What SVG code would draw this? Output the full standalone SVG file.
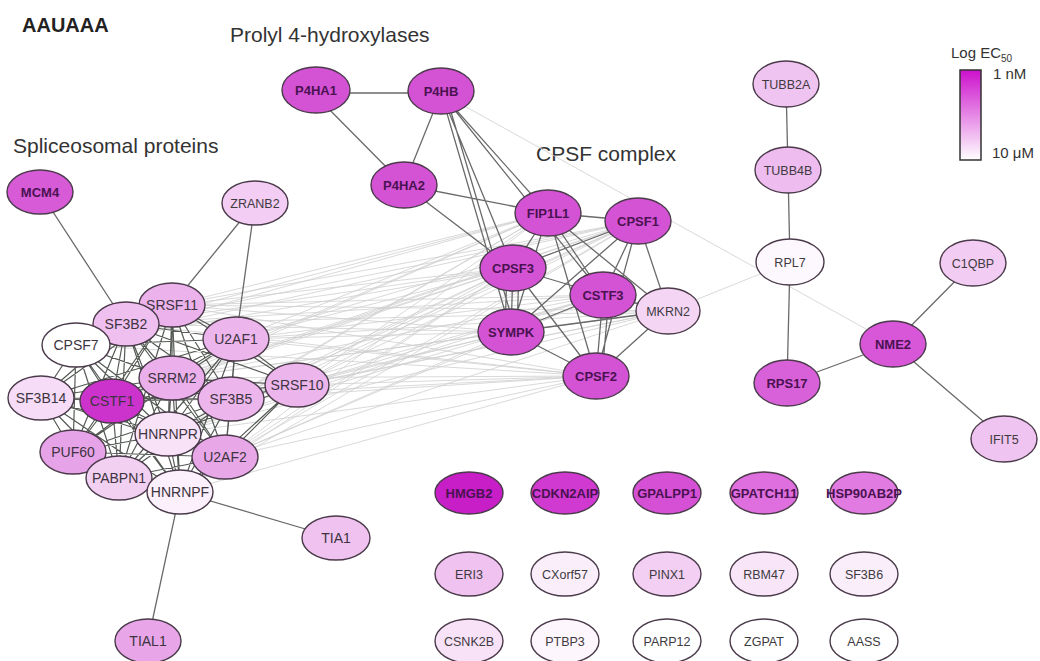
<svg xmlns="http://www.w3.org/2000/svg" width="1040" height="661" viewBox="0 0 1040 661">
<defs>
  <linearGradient id="ecScale" x1="0" y1="0" x2="0" y2="1">
    <stop offset="0" stop-color="#cc10cc"/>
    <stop offset="1" stop-color="#ffffff"/>
  </linearGradient>
  <style>
    .title { font-family: "Liberation Sans", Arial, sans-serif; font-size: 21px; fill: #333333; }
    .head { font-family: "Liberation Sans", Arial, sans-serif; font-size: 20px; font-weight: bold; fill: #222222; }
    .legend { font-family: "Liberation Sans", Arial, sans-serif; font-size: 15px; fill: #333333; }
    .node ellipse { stroke: #4a3a4a; stroke-width: 1.4; }
    .node text { font-family: "Liberation Sans", Arial, sans-serif; font-size: 12.5px; fill: #3d3a40; text-anchor: middle; }
    .node.dk text { font-size: 13px; font-weight: bold; fill: #4a1250; }
    .node.sp text { font-size: 14px; fill: #3d3440; }
    .weak { stroke: #cfcfcf; stroke-width: 0.8; fill: none; }
    .strong { stroke: #6a6a6a; stroke-width: 1.3; fill: none; }
    .mesh { stroke: #555a55; stroke-width: 1.2; fill: none; }
  </style>
</defs>
<rect width="1040" height="661" fill="#ffffff"/>

<!-- headings -->
<text class="head" x="22" y="32">AAUAAA</text>
<text class="title" x="230" y="42">Prolyl 4-hydroxylases</text>
<text class="title" x="13" y="153">Spliceosomal proteins</text>
<text class="title" x="536" y="161">CPSF complex</text>

<!-- colour scale -->
<g id="legend">
  <text class="legend" x="951" y="58">Log EC<tspan font-size="10" dy="4">50</tspan></text>
  <rect x="960" y="70" width="21" height="90" fill="url(#ecScale)" stroke="#333333" stroke-width="1.5"/>
  <text class="legend" x="993" y="79">1 nM</text>
  <text class="legend" x="992" y="158">10 μM</text>
</g>

<g id="connectors">
  <!-- faint links between the spliceosomal cluster and the CPSF complex -->
  <path class="weak" d="
    M172 305L548 213M172 305L638 221M172 305L513 268M172 305L603 295M172 305L511 332M172 305L596 376M172 305L668 311
    M126 324L548 213M126 324L638 221M126 324L513 268M126 324L603 295M126 324L511 332M126 324L596 376M126 324L668 311
    M236 339L548 213M236 339L638 221M236 339L513 268M236 339L603 295M236 339L511 332M236 339L596 376M236 339L668 311
    M76 345L548 213M76 345L638 221M76 345L513 268M76 345L596 376
    M172 378L548 213M172 378L638 221M172 378L513 268M172 378L603 295M172 378L511 332M172 378L596 376M172 378L668 311
    M297 385L548 213M297 385L638 221M297 385L513 268M297 385L603 295M297 385L511 332M297 385L596 376M297 385L668 311
    M112 401L548 213M112 401L638 221M112 401L513 268M112 401L596 376
    M231 399L548 213M231 399L638 221M231 399L513 268M231 399L603 295M231 399L511 332M231 399L596 376M231 399L668 311
    M168 434L548 213M168 434L638 221M168 434L513 268M168 434L603 295M168 434L511 332M168 434L596 376M168 434L668 311
    M225 457L548 213M225 457L638 221M225 457L513 268M225 457L603 295M225 457L511 332M225 457L596 376M225 457L668 311
    M180 492L638 221M180 492L513 268M180 492L596 376
    M441 93L893 344
    M790 262L668 311"/>

  <!-- dense spliceosomal mesh -->
  <path class="mesh" d="
    M172 305L126 324M172 305L236 339M172 305L76 345M172 305L172 378M172 305L297 385M172 305L41 398M172 305L112 401
    M172 305L231 399M172 305L168 434M172 305L73 452M172 305L225 457M172 305L119 478M172 305L180 492
    M126 324L236 339M126 324L76 345M126 324L172 378M126 324L297 385M126 324L41 398M126 324L112 401M126 324L231 399
    M126 324L168 434M126 324L73 452M126 324L225 457M126 324L119 478M126 324L180 492
    M236 339L76 345M236 339L172 378M236 339L297 385M236 339L41 398M236 339L112 401M236 339L231 399M236 339L168 434
    M236 339L73 452M236 339L225 457M236 339L119 478M236 339L180 492
    M76 345L172 378M76 345L41 398M76 345L112 401M76 345L231 399M76 345L168 434M76 345L73 452M76 345L225 457
    M76 345L119 478M76 345L180 492
    M172 378L297 385M172 378L41 398M172 378L112 401M172 378L231 399M172 378L168 434M172 378L73 452M172 378L225 457
    M172 378L119 478M172 378L180 492
    M297 385L231 399M297 385L168 434M297 385L225 457M297 385L180 492M297 385L112 401
    M41 398L112 401M41 398L231 399M41 398L168 434M41 398L73 452M41 398L225 457M41 398L119 478M41 398L180 492
    M112 401L231 399M112 401L168 434M112 401L73 452M112 401L225 457M112 401L119 478M112 401L180 492
    M231 399L168 434M231 399L73 452M231 399L225 457M231 399L119 478M231 399L180 492
    M168 434L73 452M168 434L225 457M168 434L119 478M168 434L180 492
    M73 452L225 457M73 452L119 478M73 452L180 492
    M225 457L119 478M225 457L180 492
    M119 478L180 492"/>

  <!-- solid interactions -->
  <path class="strong" d="
    M313 93L441 93M313 93L404 185M441 93L404 185
    M441 93L548 213M441 93L513 268M441 93L511 332M446 95L516 332M441 93L603 295
    M404 185L548 213M404 185L513 268
    M548 213L638 221M548 213L513 268M548 213L603 295M548 213L511 332M548 213L668 311M548 213L596 376
    M638 221L513 268M638 221L603 295M638 221L511 332M638 221L668 311M638 221L596 376
    M513 268L603 295M513 268L511 332M507 268L505 332M519 268L517 332M513 268L596 376
    M603 295L511 332M603 295L596 376M609 295L602 376M603 295L668 311
    M511 332L668 311M511 332L596 376M668 311L596 376
    M786 84L788 170M788 170L790 262M790 262L787 383M787 383L893 344M893 344L973 263M893 344L1004 439
    M40 192L126 324M255 203L172 305M255 203L236 339
    M180 492L336 538M180 492L148 641"/>
</g>

<!-- nodes: spliceosomal proteins -->
<g id="n-MCM4" class="node dk" transform="translate(40,192)"><ellipse rx="33" ry="22" fill="#d75ad7"/><text y="4.5">MCM4</text></g>
<g id="n-ZRANB2" class="node" transform="translate(255,203)"><ellipse rx="33" ry="22" fill="#f3cdf3"/><text y="4.5">ZRANB2</text></g>
<g id="n-SRSF11" class="node sp" transform="translate(172,305)"><ellipse rx="33" ry="22" fill="#ecb2ec"/><text y="5">SRSF11</text></g>
<g id="n-SF3B2" class="node sp" transform="translate(126,324)"><ellipse rx="33" ry="22" fill="#efbfef"/><text y="5">SF3B2</text></g>
<g id="n-U2AF1" class="node sp" transform="translate(236,339)"><ellipse rx="33" ry="22" fill="#ecb6ec"/><text y="5">U2AF1</text></g>
<g id="n-CPSF7" class="node sp" transform="translate(76,345)"><ellipse rx="34" ry="22" fill="#ffffff"/><text y="5">CPSF7</text></g>
<g id="n-SRRM2" class="node sp" transform="translate(172,378)"><ellipse rx="33" ry="22" fill="#ebb0eb"/><text y="5">SRRM2</text></g>
<g id="n-SRSF10" class="node sp" transform="translate(297,385)"><ellipse rx="32" ry="22" fill="#ecb6ec"/><text y="5">SRSF10</text></g>
<g id="n-SF3B14" class="node sp" transform="translate(41,398)"><ellipse rx="33" ry="22" fill="#f6dcf6"/><text y="5">SF3B14</text></g>
<g id="n-CSTF1" class="node sp" transform="translate(112,401)"><ellipse rx="32" ry="22" fill="#cc33cc"/><text y="5">CSTF1</text></g>
<g id="n-SF3B5" class="node sp" transform="translate(231,399)"><ellipse rx="33" ry="22" fill="#ecb6ec"/><text y="5">SF3B5</text></g>
<g id="n-HNRNPR" class="node sp" transform="translate(168,434)"><ellipse rx="33" ry="22" fill="#f8e2f8"/><text y="5">HNRNPR</text></g>
<g id="n-PUF60" class="node sp" transform="translate(73,452)"><ellipse rx="33" ry="22" fill="#e7a3e7"/><text y="5">PUF60</text></g>
<g id="n-U2AF2" class="node sp" transform="translate(225,457)"><ellipse rx="33" ry="22" fill="#e8a8e8"/><text y="5">U2AF2</text></g>
<g id="n-PABPN1" class="node sp" transform="translate(119,478)"><ellipse rx="33" ry="22" fill="#f2d0f2"/><text y="5">PABPN1</text></g>
<g id="n-HNRNPF" class="node sp" transform="translate(180,492)"><ellipse rx="33" ry="22" fill="#fbf0fb"/><text y="5">HNRNPF</text></g>
<g id="n-TIA1" class="node sp" transform="translate(336,538)"><ellipse rx="34" ry="22" fill="#f0c2f0"/><text y="5">TIA1</text></g>
<g id="n-TIAL1" class="node sp" transform="translate(148,641)"><ellipse rx="33" ry="22" fill="#e8a6e8"/><text y="5">TIAL1</text></g>

<!-- nodes: prolyl 4-hydroxylases -->
<g id="n-P4HA1" class="node dk" transform="translate(316,90)"><ellipse rx="34" ry="23" fill="#d452d4"/><text y="4.5">P4HA1</text></g>
<g id="n-P4HB" class="node dk" transform="translate(441,91)"><ellipse rx="33" ry="23" fill="#d452d4"/><text y="4.5">P4HB</text></g>
<g id="n-P4HA2" class="node dk" transform="translate(404,185)"><ellipse rx="33" ry="23" fill="#d452d4"/><text y="4.5">P4HA2</text></g>

<!-- nodes: CPSF complex -->
<g id="n-FIP1L1" class="node dk" transform="translate(548,213)"><ellipse rx="33" ry="23" fill="#d452d4"/><text y="4.5">FIP1L1</text></g>
<g id="n-CPSF1" class="node dk" transform="translate(638,221)"><ellipse rx="33" ry="23" fill="#d452d4"/><text y="4.5">CPSF1</text></g>
<g id="n-CPSF3" class="node dk" transform="translate(513,268)"><ellipse rx="33" ry="23" fill="#d452d4"/><text y="4.5">CPSF3</text></g>
<g id="n-MKRN2" class="node" transform="translate(668,311)"><ellipse rx="32" ry="23" fill="#f4d6f4"/><text y="4.5">MKRN2</text></g>
<g id="n-CSTF3" class="node dk" transform="translate(603,295)"><ellipse rx="33" ry="23" fill="#d452d4"/><text y="4.5">CSTF3</text></g>
<g id="n-SYMPK" class="node dk" transform="translate(511,332)"><ellipse rx="33" ry="23" fill="#d452d4"/><text y="4.5">SYMPK</text></g>
<g id="n-CPSF2" class="node dk" transform="translate(596,376)"><ellipse rx="33" ry="23" fill="#d452d4"/><text y="4.5">CPSF2</text></g>

<!-- nodes: right-hand component -->
<g id="n-TUBB2A" class="node" transform="translate(786,84)"><ellipse rx="33" ry="23" fill="#f0c4f0"/><text y="4.5">TUBB2A</text></g>
<g id="n-TUBB4B" class="node" transform="translate(788,170)"><ellipse rx="33" ry="23" fill="#eebcee"/><text y="4.5">TUBB4B</text></g>
<g id="n-RPL7" class="node" transform="translate(790,262)"><ellipse rx="34" ry="23" fill="#fdf8fd"/><text y="4.5">RPL7</text></g>
<g id="n-C1QBP" class="node" transform="translate(973,263)"><ellipse rx="33" ry="23" fill="#f2ccf2"/><text y="4.5">C1QBP</text></g>
<g id="n-NME2" class="node dk" transform="translate(893,344)"><ellipse rx="33" ry="23" fill="#d856d8"/><text y="4.5">NME2</text></g>
<g id="n-RPS17" class="node dk" transform="translate(787,383)"><ellipse rx="33" ry="23" fill="#d860d8"/><text y="4.5">RPS17</text></g>
<g id="n-IFIT5" class="node" transform="translate(1004,439)"><ellipse rx="33" ry="23" fill="#f0c4f0"/><text y="4.5">IFIT5</text></g>

<!-- unconnected proteins -->
<g id="n-HMGB2" class="node dk" transform="translate(469,493)"><ellipse rx="34" ry="21" fill="#c81ec8"/><text y="4.5">HMGB2</text></g>
<g id="n-CDKN2AIP" class="node dk" transform="translate(565,493)"><ellipse rx="34" ry="21" fill="#d03ad0"/><text y="4.5">CDKN2AIP</text></g>
<g id="n-GPALPP1" class="node dk" transform="translate(667,493)"><ellipse rx="34" ry="21" fill="#d650d6"/><text y="4.5">GPALPP1</text></g>
<g id="n-GPATCH11" class="node dk" transform="translate(764,493)"><ellipse rx="34" ry="21" fill="#df6edf"/><text y="4.5">GPATCH11</text></g>
<g id="n-HSP90AB2P" class="node dk" transform="translate(864,493)"><ellipse rx="34" ry="21" fill="#e17ae1"/><text y="4.5">HSP90AB2P</text></g>
<g id="n-ERI3" class="node" transform="translate(469,574)"><ellipse rx="34" ry="22" fill="#f0c2f0"/><text y="4.5">ERI3</text></g>
<g id="n-CXorf57" class="node" transform="translate(565,574)"><ellipse rx="34" ry="22" fill="#fbeefb"/><text y="4.5">CXorf57</text></g>
<g id="n-PINX1" class="node" transform="translate(667,574)"><ellipse rx="34" ry="22" fill="#f3d0f3"/><text y="4.5">PINX1</text></g>
<g id="n-RBM47" class="node" transform="translate(764,574)"><ellipse rx="34" ry="22" fill="#f8e6f8"/><text y="4.5">RBM47</text></g>
<g id="n-SF3B6" class="node" transform="translate(864,574)"><ellipse rx="34" ry="22" fill="#faeefa"/><text y="4.5">SF3B6</text></g>
<g id="n-CSNK2B" class="node" transform="translate(469,641)"><ellipse rx="34" ry="22" fill="#f8e2f8"/><text y="4.5">CSNK2B</text></g>
<g id="n-PTBP3" class="node" transform="translate(565,641)"><ellipse rx="34" ry="22" fill="#fdf6fd"/><text y="4.5">PTBP3</text></g>
<g id="n-PARP12" class="node" transform="translate(667,641)"><ellipse rx="34" ry="22" fill="#ffffff"/><text y="4.5">PARP12</text></g>
<g id="n-ZGPAT" class="node" transform="translate(764,641)"><ellipse rx="34" ry="22" fill="#ffffff"/><text y="4.5">ZGPAT</text></g>
<g id="n-AASS" class="node" transform="translate(864,641)"><ellipse rx="34" ry="22" fill="#ffffff"/><text y="4.5">AASS</text></g>
</svg>
